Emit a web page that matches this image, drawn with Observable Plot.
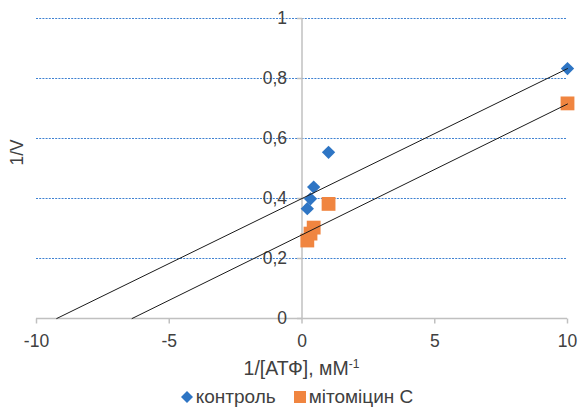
<!DOCTYPE html>
<html>
<head>
<meta charset="utf-8">
<script src="https://cdn.jsdelivr.net/npm/d3@7"></script>
<script src="https://cdn.jsdelivr.net/npm/@observablehq/plot@0.6"></script>
<style>
  body { margin: 0; background: #fff; }
  #wrap { position: relative; width: 580px; height: 407px; font-family: "Liberation Sans", Arial, sans-serif; color: #404040; }
  #xlabel { position: absolute; left: 0; width: 603px; top: 357px; height: 22px; line-height: 22px; text-align: center; font-size: 19.5px; }
  #xlabel sup { font-size: 12px; vertical-align: 7px; line-height: 0; }
  #legend { position: absolute; left: 0; width: 594px; top: 386px; height: 22px; display: flex; justify-content: center; align-items: center; font-size: 19px; }
  .item { display: flex; align-items: center; margin: 0 9px; }
  .item svg { margin-right: 3px; }
</style>
</head>
<body>
<div id="wrap">
  <div id="chart"></div>
  <div id="xlabel">1/[АТФ], мМ<sup>-1</sup></div>
  <div id="legend"></div>
</div>
<script>
const xTicks = [-10, -5, 0, 5, 10];
const yTicks = [0, 0.2, 0.4, 0.6, 0.8, 1];
const seriesNames = ["контроль", "мітоміцин С"];
const seriesColors = ["#2e75c4", "#f08540"];
const controlX = [0.2, 0.32, 0.44, 1, 10];
const controlY = [0.366, 0.399, 0.438, 0.554, 0.833];
const mitoX = [0.2, 0.32, 0.44, 1, 10];
const mitoY = [0.26, 0.283, 0.303, 0.382, 0.717];
const trendSlope = [0.0433, 0.0436];
const trendIntercept = [0.400, 0.279];
const xMax = 10;

const control = controlX.map((x, i) => ({x, y: controlY[i]}));
const mito = mitoX.map((x, i) => ({x, y: mitoY[i]}));
const trends = trendSlope.map((m, i) => {
  const b = trendIntercept[i];
  return [{x: -b / m, y: 0, s: i}, {x: xMax, y: m * xMax + b, s: i}];
}).flat();

const tickDown = {draw(ctx) { ctx.moveTo(0, 0); ctx.lineTo(0, 5); }};
const tickLeft = {draw(ctx) { ctx.moveTo(0, 0); ctx.lineTo(-5, 0); }};
const fmt = d => String(d).replace(".", ",");

const chart = Plot.plot({
  width: 580,
  height: 350,
  marginLeft: 36,
  marginRight: 13,
  marginTop: 18,
  marginBottom: 32,
  x: {domain: [-10, 10], axis: null},
  y: {domain: [0, 1], axis: null},
  style: {fontFamily: "'Liberation Sans', Arial, sans-serif", fontSize: "17.5px", color: "#404040", background: "#fff"},
  marks: [
    Plot.ruleY(yTicks.filter(d => d > 0), {y: d => d, stroke: "#3f82d2", strokeDasharray: "2,1.2", strokeWidth: 1}),
    Plot.ruleY([0], {stroke: "#c0c0c0", strokeWidth: 1.5}),
    Plot.ruleX([0], {stroke: "#c0c0c0", strokeWidth: 1.5}),
    Plot.dot(xTicks, {x: d => d, y: 0, symbol: tickDown, stroke: "#c0c0c0", fill: "none", strokeWidth: 1.5}),
    Plot.dot(yTicks, {x: 0, y: d => d, symbol: tickLeft, stroke: "#c0c0c0", fill: "none", strokeWidth: 1.5}),
    Plot.text(xTicks, {x: d => d, y: 0, text: d => String(d), dy: 23, fill: "#404040"}),
    Plot.text(yTicks, {x: 0, y: d => d, text: fmt, textAnchor: "end", dx: -15, fill: "#404040"}),
    Plot.text(["1/V"], {frameAnchor: "left", rotate: -90, dx: -19, dy: -3, fill: "#404040", fontSize: 17.5}),
    Plot.dot(control, {x: "x", y: "y", symbol: "diamond2", r: 6, fill: seriesColors[0], stroke: "none"}),
    Plot.dot(mito, {x: "x", y: "y", symbol: "square", r: 7.8, fill: seriesColors[1], stroke: "none"}),
    Plot.line(trends, {x: "x", y: "y", z: "s", stroke: "#1a1a1a", strokeWidth: 1})
  ]
});
document.getElementById("chart").appendChild(chart);

const legend = document.getElementById("legend");
seriesNames.forEach((name, i) => {
  const item = document.createElement("div");
  item.className = "item";
  const shape = i === 0
    ? `<svg width="12" height="12"><path d="M6 0L12 6L6 12L0 6Z" fill="${seriesColors[i]}"/></svg>`
    : `<svg width="12" height="12"><rect width="12" height="12" fill="${seriesColors[i]}"/></svg>`;
  item.innerHTML = shape + `<span>${name}</span>`;
  legend.appendChild(item);
});
</script>
</body>
</html>
